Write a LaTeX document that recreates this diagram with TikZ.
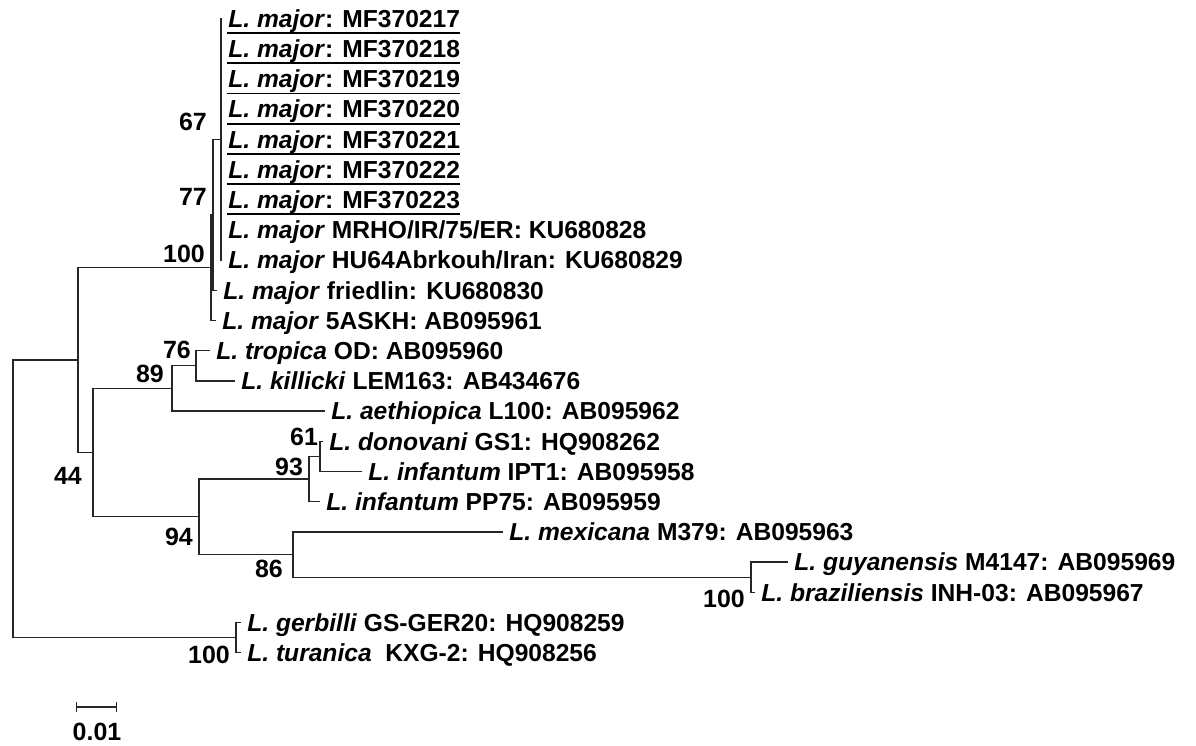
\documentclass[tikz,border=0pt]{standalone}
\usepackage{fontspec}
\setmainfont{Liberation Sans}
\usetikzlibrary{arrows.meta}
\tikzset{
  leaf/.style={anchor=west,inner xsep=0.12cm,inner ysep=0pt,
               text height=0.352cm,text depth=0pt,
               font=\fontsize{14}{17}\selectfont\bfseries},
  boot/.style={inner sep=0pt,font=\fontsize{14.2}{17}\selectfont\bfseries},
  branch/.style={line width=0.75pt,color=black!85},
  uline/.style={line width=1pt},
}
\newcommand{\spc}[1]{\textit{L. #1}}

\begin{document}
\begin{tikzpicture}[x=0.02cm,y=-0.02cm]
  \useasboundingbox (0,0) rectangle (1196,746);

  % leaves
  \node[leaf] (l1)  at (222,18.5)  {\spc{major}: MF370217};
  \node[leaf] (l2)  at (222,48.7)  {\spc{major}: MF370218};
  \node[leaf] (l3)  at (222,78.9)  {\spc{major}: MF370219};
  \node[leaf] (l4)  at (222,109.1) {\spc{major}: MF370220};
  \node[leaf] (l5)  at (222,139.3) {\spc{major}: MF370221};
  \node[leaf] (l6)  at (222,169.5) {\spc{major}: MF370222};
  \node[leaf] (l7)  at (222,199.7) {\spc{major}: MF370223};
  \node[leaf] (l8)  at (222,229.9) {\spc{major} MRHO/IR/75/ER: KU680828};
  \node[leaf] (l9)  at (222,260.1) {\spc{major} HU64Abrkouh/Iran: KU680829};
  \node[leaf] (l10) at (217,290.3) {\spc{major} friedlin: KU680830};
  \node[leaf] (l11) at (216,320.5) {\spc{major} 5ASKH: AB095961};
  \node[leaf] (l12) at (210,350.7) {\spc{tropica} OD: AB095960};
  \node[leaf] (l13) at (235,380.9) {\spc{killicki} LEM163: AB434676};
  \node[leaf] (l14) at (325,411.1) {\spc{aethiopica} L100: AB095962};
  \node[leaf] (l15) at (323,441.3) {\spc{donovani} GS1: HQ908262};
  \node[leaf] (l16) at (362,471.5) {\spc{infantum} IPT1: AB095958};
  \node[leaf] (l17) at (320,501.7) {\spc{infantum} PP75: AB095959};
  \node[leaf] (l18) at (503,531.9) {\spc{mexicana} M379: AB095963};
  \node[leaf] (l19) at (788,562.1) {\spc{guyanensis} M4147: AB095969};
  \node[leaf] (l20) at (755,592.3) {\spc{braziliensis} INH-03: AB095967};
  \node[leaf] (l21) at (241,622.5) {\spc{gerbilli} GS-GER20: HQ908259};
  \node[leaf] (l22) at (241,652.7) {\spc{turanica}\ \ KXG-2: HQ908256};

  \foreach \n in {l1,l2,l3,l4,l5,l6,l7}
    \draw[uline] ([xshift=0.1cm,yshift=-0.11cm]\n.south west)
              -- ([xshift=-0.12cm,yshift=-0.11cm]\n.south east);

  % internal nodes
  \coordinate (nA) at (221,139.3);
  \coordinate (nB) at (213,214.8);
  \coordinate (nC) at (211,267.65);
  \coordinate (nH) at (196,365.8);
  \coordinate (nI) at (172,388.45);
  \coordinate (nJ) at (320,456.4);
  \coordinate (nK) at (309,479.05);
  \coordinate (nL) at (751,577.2);
  \coordinate (nG) at (293,554.55);
  \coordinate (nF) at (199,516.8);
  \coordinate (nE) at (93,452.6);
  \coordinate (nD) at (78,360.1);
  \coordinate (nM) at (236,637.6);
  \coordinate (root) at (13,498.85);

  % branches
  \begin{scope}[branch]
    \foreach \n in {l1,l2,l3,l4,l5,l6,l7,l8,l9}
      \draw (nA) |- (\n.west);
    \draw (nB) |- (nA);  \draw (nB) |- (l10.west);
    \draw (nC) |- (nB);  \draw (nC) |- (l11.west);
    \draw (nH) |- (l12.west); \draw (nH) |- (l13.west);
    \draw (nI) |- (nH);  \draw (nI) |- (l14.west);
    \draw (nJ) |- (l15.west); \draw (nJ) |- (l16.west);
    \draw (nK) |- (nJ);  \draw (nK) |- (l17.west);
    \draw (nL) |- (l19.west); \draw (nL) |- (l20.west);
    \draw (nG) |- (l18.west); \draw (nG) |- (nL);
    \draw (nF) |- (nK);  \draw (nF) |- (nG);
    \draw (nE) |- (nI);  \draw (nE) |- (nF);
    \draw (nD) |- (nC);  \draw (nD) |- (nE);
    \draw (nM) |- (l21.west); \draw (nM) |- (l22.west);
    \draw (root) |- (nD); \draw (root) |- (nM);
  \end{scope}

  % bootstrap values
  \node[boot] (b67)  at (193,122) {67};
  \node[boot] (b77)  at (193,197) {77};
  \node[boot] (b100a) at (184,254) {100};
  \node[boot] (b76)  at (177,350) {76};
  \node[boot] (b89)  at (150,374) {89};
  \node[boot] (b44)  at (68,476)  {44};
  \node[boot] (b61)  at (304,437) {61};
  \node[boot] (b93)  at (289,467) {93};
  \node[boot] (b94)  at (179,537) {94};
  \node[boot] (b86)  at (269,569) {86};
  \node[boot] (b100b) at (724,599) {100};
  \node[boot] (b100c) at (209,655) {100};

  % scale bar
  \coordinate (sb1) at (76,707);
  \coordinate (sb2) at (117,707);
  \draw[branch,{Bar[width=0.2cm]}-{Bar[width=0.2cm]}] (sb1) -- (sb2);
  \node[boot] (sbl) at (97,732) {0.01};
\end{tikzpicture}
\end{document}
